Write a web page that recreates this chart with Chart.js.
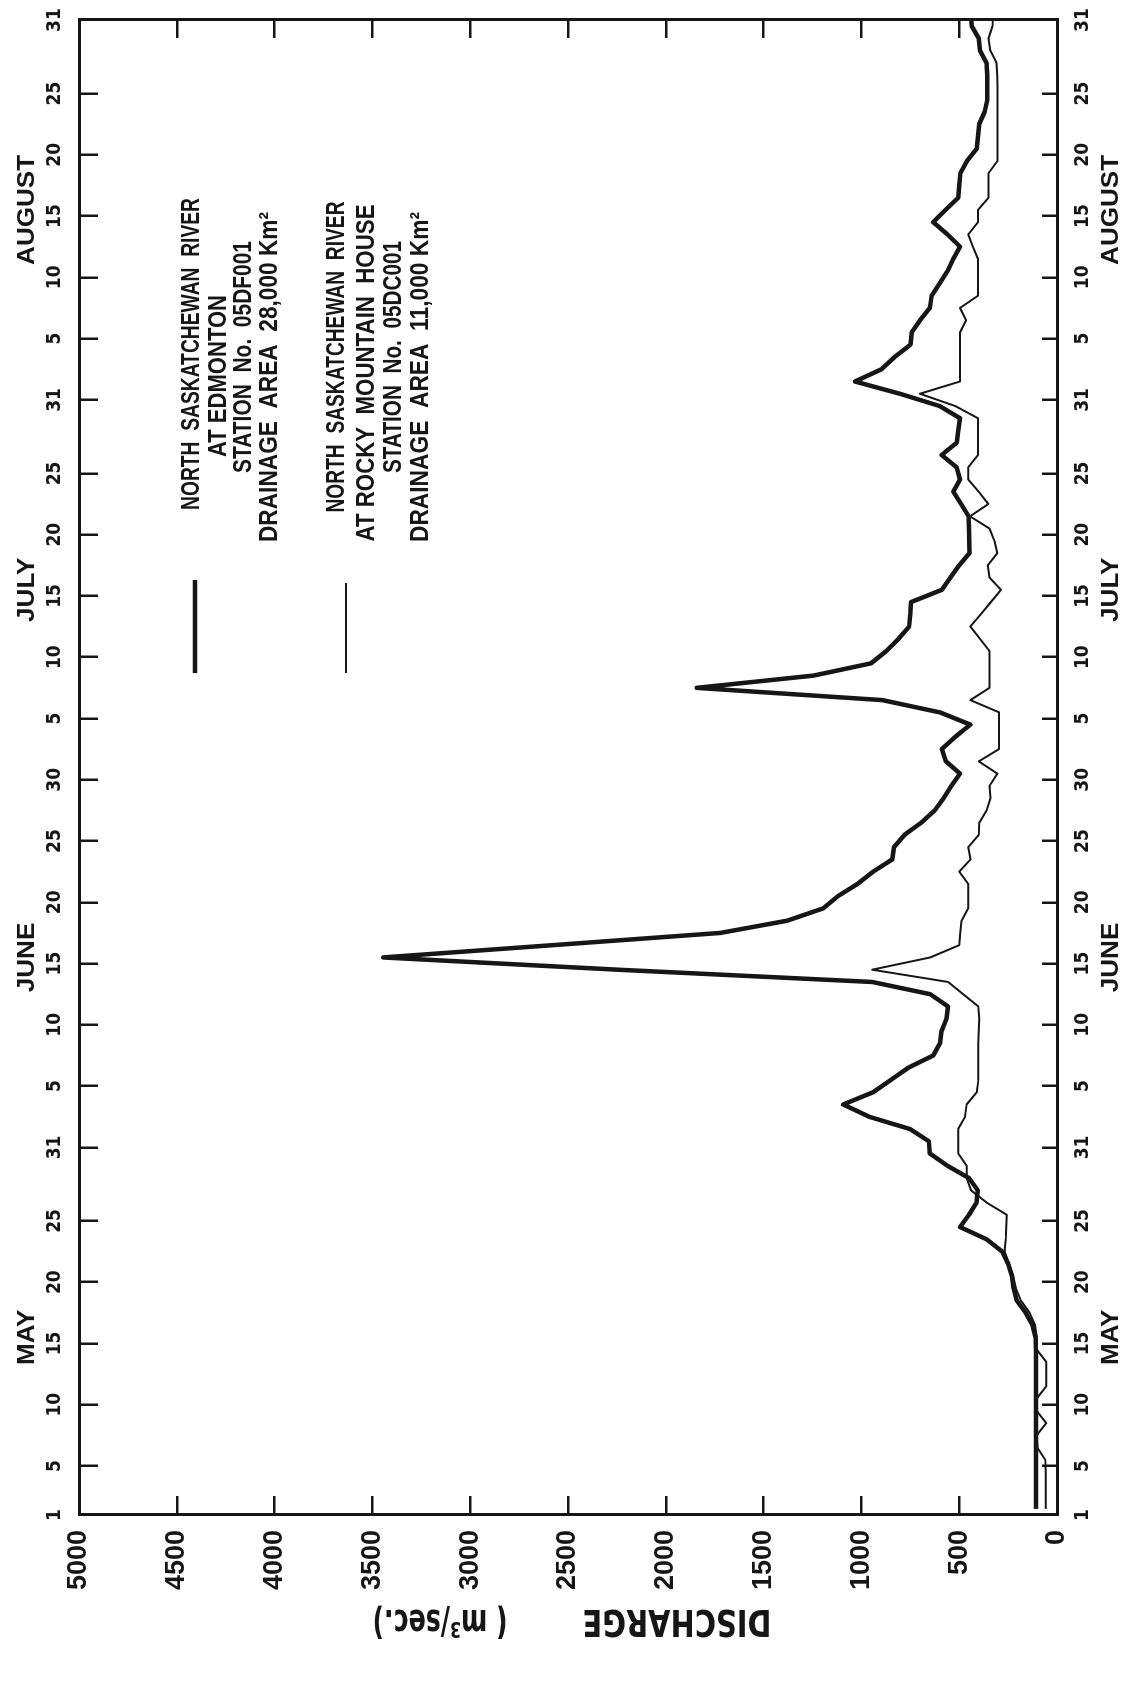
<!DOCTYPE html>
<html>
<head>
<meta charset="utf-8">
<script src="https://cdn.jsdelivr.net/npm/chart.js@4.4.1/dist/chart.umd.min.js"></script>
<style>
  html, body { margin: 0; padding: 0; background: #fff; }
  body { width: 1131px; height: 1692px; overflow: hidden; position: relative; }
  /* the chart is drawn landscape and turned a quarter turn, like the printed page */
  #wrap { position: absolute; left: 0; top: 0; width: 1692px; height: 1131px;
          transform-origin: 0 0; transform: translateY(1692px) rotate(-90deg); }
</style>
</head>
<body>
<div id="wrap"><canvas id="grafico" width="1692" height="1131"></canvas></div>
<script>
// daily discharge (m3/sec), May 1 to Aug 31
const edmonton = [
  108, 108, 108, 108, 108, 108, 108, 108, 108, 108,
  108, 108, 108, 108, 110, 125, 160, 206, 222, 230,
  250, 280, 360, 496, 450, 411, 405, 450, 560, 650,
  655, 752, 960, 1093, 940, 850, 760, 633, 598, 590,
  565, 557, 648, 945, 2246, 3445, 2580, 1721, 1379, 1196,
  1120, 1020, 940, 842, 833, 780, 694, 625, 580, 540,
  496, 568, 589, 520, 443, 599, 893, 1842, 1245, 951,
  873, 810, 756, 750, 746, 589, 545, 500, 447, 448,
  450, 452, 490, 530, 496, 513, 590, 513, 505, 496,
  600, 803, 1033, 897, 830, 749, 743, 700, 650, 641,
  600, 560, 530, 496, 560, 633, 570, 505, 500, 494,
  460, 410, 404, 398, 370, 356, 356, 357, 360, 394,
  400, 436, 440
];
const rockyMountain = [
  58, 58, 58, 58, 60, 100, 104, 55, 104, 104,
  55, 55, 55, 104, 104, 112, 140, 185, 210, 225,
  245, 268, 262, 260, 257, 360, 440, 462, 462, 505,
  505, 505, 470, 462, 410, 402, 402, 402, 402, 400,
  398, 402, 480, 557, 945, 648, 500, 495, 488, 454,
  454, 454, 500, 442, 454, 400, 397, 360, 340, 345,
  305, 400, 296, 296, 296, 296, 443, 345, 345, 345,
  345, 394, 443, 390, 338, 286, 345, 354, 305, 320,
  345, 445, 351, 400, 454, 454, 404, 404, 404, 404,
  520, 701, 496, 496, 496, 496, 496, 465, 496, 404,
  404, 404, 404, 430, 454, 404, 404, 350, 350, 350,
  304, 304, 304, 304, 304, 304, 304, 306, 309, 341,
  350, 330, 326
];
const dias = edmonton.map((_, i) => i + 1);

// day ticks (day number counted from May 1) and their labels
const diasMarca = [1, 5, 10, 15, 20, 25, 31, 36, 41, 46, 51, 56, 61, 66, 71, 76, 81, 86, 92, 97, 102, 107, 112, 117, 123];
const etiquetasDia = ["1", "5", "10", "15", "20", "25", "31", "5", "10", "15", "20", "25", "30",
                      "5", "10", "15", "20", "25", "31", "5", "10", "15", "20", "25", "31"];
const caudalMarca = [0, 500, 1000, 1500, 2000, 2500, 3000, 3500, 4000, 4500, 5000];
const meses = ["MAY", "JUNE", "JULY", "AUGUST"];
const inicioMes = [0, 31, 61, 92];

const tinta = "#161616";

const leyenda = [
  { texto: "NORTH  SASKATCHEWAN  RIVER", cx: 1338, cy: 192, ancho: 312 },
  { texto: "AT EDMONTON", cx: 1316, cy: 219, ancho: 162 },
  { texto: "STATION  No.  05DF001", cx: 1335, cy: 244, ancho: 232 },
  { texto: "DRAINAGE  AREA  28,000 Km\u00b2", cx: 1315, cy: 270, ancho: 330 },
  { texto: "NORTH  SASKATCHEWAN  RIVER", cx: 1335, cy: 337, ancho: 311 },
  { texto: "AT ROCKY  MOUNTAIN  HOUSE", cx: 1319, cy: 367, ancho: 337 },
  { texto: "STATION  No.  05DC001", cx: 1335, cy: 394, ancho: 232 },
  { texto: "DRAINAGE  AREA  11,000 Km\u00b2", cx: 1315, cy: 421, ancho: 330 }
];

function textoAjustado(ctx, texto, cx, cy, escala, giro) {
  ctx.save();
  ctx.translate(cx, cy);
  if (giro) ctx.rotate(giro);
  ctx.scale(escala, 1);
  ctx.textAlign = "center";
  ctx.textBaseline = "middle";
  ctx.fillText(texto, 0, 0);
  ctx.restore();
}

function raya(ctx, x1, y1, x2, y2) {
  ctx.beginPath();
  ctx.moveTo(x1, y1);
  ctx.lineTo(x2, y2);
  ctx.stroke();
}

// month names, axis title and the legend block
const adornos = {
  id: "adornos",
  afterDraw(chart) {
    const ctx = chart.ctx;
    const sx = chart.scales.x;
    ctx.save();
    ctx.strokeStyle = tinta;
    ctx.fillStyle = tinta;

    ctx.font = "bold 24px 'Liberation Sans', Arial, sans-serif";
    const k = 110 / ctx.measureText("AUGUST").width;
    meses.forEach((m, i) => {
      const px = sx.getPixelForValue(inicioMes[i] + 15);
      textoAjustado(ctx, m, px, 27, k);
      textoAjustado(ctx, m, px, 1111, k);
    });

    // axis title, reading upward
    ctx.font = "bold 37px 'DejaVu Sans Condensed', 'DejaVu Sans', sans-serif";
    let w = ctx.measureText("DISCHARGE").width;
    textoAjustado(ctx, "DISCHARGE", 72, 677, 189 / w, -Math.PI / 2);
    w = ctx.measureText("( m\u00b3/sec.)").width;
    textoAjustado(ctx, "( m\u00b3/sec.)", 72, 440, 135 / w, -Math.PI / 2);

    ctx.font = "bold 25px 'Liberation Sans', Arial, sans-serif";
    leyenda.forEach(l => {
      const lw = ctx.measureText(l.texto).width;
      textoAjustado(ctx, l.texto, l.cx, l.cy, l.ancho / lw);
    });

    ctx.lineWidth = 4.5;
    raya(ctx, 1019, 195, 1112, 195);
    ctx.lineWidth = 2;
    raya(ctx, 1019, 346, 1109, 346);
    ctx.restore();
  }
};

// inward tick marks come from a negative tick length
function rejilla(largo) {
  return { display: true, drawOnChartArea: false, drawTicks: true, tickLength: -largo,
           tickWidth: 2.5, tickColor: tinta, color: tinta, lineWidth: 2.5 };
}

function ejeDias(posicion, alto, relleno, largo) {
  return {
    type: "linear",
    axis: "x",
    position: posicion,
    min: 0.5,
    max: 122.5,
    afterBuildTicks: s => { s.ticks = diasMarca.map(d => ({ value: d - 0.5 })); },
    afterFit: s => { s.height = alto; s.paddingLeft = 0; s.paddingRight = 0; },
    ticks: {
      autoSkip: false,
      maxRotation: 0,
      padding: relleno + largo,
      color: tinta,
      font: { family: "'Liberation Sans Narrow', 'DejaVu Sans Condensed', sans-serif", size: 19, weight: "bold" },
      callback: (v, i) => etiquetasDia[i]
    },
    grid: rejilla(largo),
    border: { display: true, color: tinta, width: 3 }
  };
}

const chart = new Chart(document.getElementById("grafico").getContext("2d"), {
  type: "line",
  data: {
    labels: dias,
    datasets: [
      {
        label: "North Saskatchewan River at Edmonton",
        data: edmonton,
        borderColor: tinta,
        borderWidth: 4.5,
        pointRadius: 0,
        tension: 0,
        borderJoinStyle: "round"
      },
      {
        label: "North Saskatchewan River at Rocky Mountain House",
        data: rockyMountain,
        borderColor: tinta,
        borderWidth: 2,
        pointRadius: 0,
        tension: 0,
        borderJoinStyle: "round"
      }
    ]
  },
  options: {
    responsive: false,
    animation: false,
    devicePixelRatio: 1,
    layout: { padding: 0 },
    plugins: { legend: { display: false }, tooltip: { enabled: false } },
    scales: {
      x: ejeDias("bottom", 74, 15, 15),
      x2: ejeDias("top", 79, 13, 19),
      y: {
        type: "linear",
        position: "left",
        min: 0,
        max: 5000,
        afterFit: s => { s.width = 177; s.paddingTop = 0; s.paddingBottom = 0; },
        afterBuildTicks: s => { s.ticks = caudalMarca.map(v => ({ value: v })); },
        ticks: {
          padding: 15 + 19,
          color: tinta,
          font: { family: "'Liberation Sans', Arial, sans-serif", size: 27, weight: "bold" },
          callback: v => String(v)
        },
        grid: rejilla(19),
        border: { display: true, color: tinta, width: 3 }
      },
      y2: {
        type: "linear",
        axis: "y",
        position: "right",
        min: 0,
        max: 5000,
        afterFit: s => { s.width = 20; s.paddingTop = 0; s.paddingBottom = 0; },
        afterBuildTicks: s => { s.ticks = caudalMarca.map(v => ({ value: v })); },
        ticks: { display: false },
        grid: rejilla(18),
        border: { display: true, color: tinta, width: 3 }
      }
    }
  },
  plugins: [adornos]
});
</script>
</body>
</html>
